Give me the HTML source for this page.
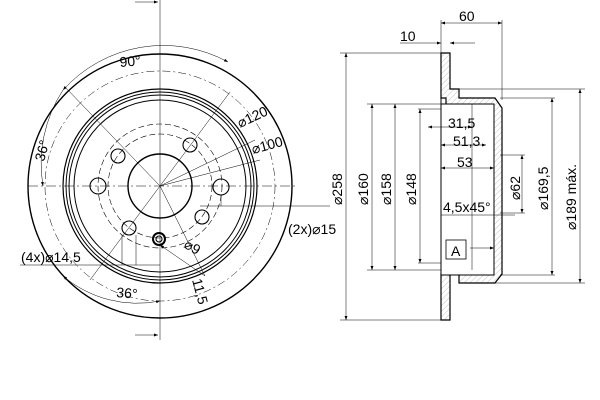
<!DOCTYPE html>
<html><head><style>body{margin:0;background:#fff}svg{display:block}text{font-family:"Liberation Sans",sans-serif;font-size:14px;fill:#000}</style></head><body>
<svg width="600" height="400" viewBox="0 0 600 400" xmlns="http://www.w3.org/2000/svg">
<defs>
<pattern id="h" width="4" height="4" patternUnits="userSpaceOnUse" patternTransform="rotate(45)"><line x1="0" y1="0" x2="0" y2="4" stroke="#888" stroke-width="0.5"/></pattern>
<marker id="a" markerWidth="8" markerHeight="6" refX="8" refY="3" orient="auto-start-reverse"><path d="M0,0L8,3L0,6z" fill="#000"/></marker>
</defs>
<g fill="none" stroke="#000">
<circle cx="160" cy="186" r="132" stroke-width="1.4"/>
<circle cx="160" cy="186" r="97" stroke-width="1.2"/>
<circle cx="160" cy="186" r="94"/>
<circle cx="160" cy="186" r="91"/>
<circle cx="160" cy="186" r="86"/>
<circle cx="160" cy="186" r="32" stroke-width="1.4"/>
<circle cx="160" cy="186" r="62" stroke-width="0.6" stroke-dasharray="6,3"/>
<circle cx="160" cy="186" r="52" stroke-width="0.6" stroke-dasharray="6,3"/>
<circle cx="160" cy="186" r="115" stroke-width="0.5" stroke-dasharray="8,3,2,3"/>
<g stroke-width="1.1">
<circle cx="221" cy="187" r="8"/><circle cx="98" cy="186" r="8"/>
<circle cx="190" cy="145" r="7"/><circle cx="118" cy="156" r="7"/>
<circle cx="202" cy="217" r="7"/><circle cx="129" cy="228" r="7"/>
<circle cx="159" cy="239" r="6" stroke-width="2"/><circle cx="159" cy="239" r="3"/>
</g>
<g stroke-width="0.5">
<line x1="28" y1="186" x2="295" y2="186" stroke-dasharray="10,3,2,3"/>
<line x1="160" y1="0" x2="160" y2="340"/>
<line x1="160" y1="186" x2="230" y2="92"/>
<line x1="160" y1="186" x2="65" y2="87"/>
<line x1="160" y1="186" x2="255" y2="140"/>
<line x1="160" y1="186" x2="260" y2="160"/>
<line x1="160" y1="186" x2="90" y2="280"/>
<line x1="160" y1="186" x2="205" y2="276"/>
<line x1="20" y1="265" x2="160" y2="265"/>
<line x1="200" y1="206" x2="330" y2="206"/>
<line x1="221" y1="195" x2="221" y2="206"/>
<line x1="122" y1="235" x2="122" y2="265"/><line x1="136" y1="235" x2="136" y2="265"/>
<path d="M63,276 A115,115 0 0 0 160 301" marker-start="url(#a)" marker-end="url(#a)"/>
<path d="M63,90 A135,135 0 0 1 228 62" marker-start="url(#a)" marker-end="url(#a)"/>
<path d="M63,90 A135,135 0 0 0 43 186" marker-end="url(#a)"/>
<line x1="135" y1="2" x2="158" y2="2" marker-end="url(#a)"/>
<line x1="135" y1="335" x2="158" y2="335" marker-end="url(#a)"/>
<line x1="205" y1="276" x2="160" y2="245" marker-end="url(#a)"/>
</g>
</g>
<text x="120" y="67" transform="rotate(-5 120 67)">90°</text>
<text x="44" y="162" transform="rotate(-75 44 162)">36°</text>
<text x="116" y="297" transform="rotate(5 116 297)">36°</text>
<text x="240" y="128" transform="rotate(-25 240 128)">⌀120</text>
<text x="253" y="154" transform="rotate(-15 253 154)">⌀100</text>
<text x="183" y="247" transform="rotate(30 183 247)">⌀9</text>
<text x="192" y="280" transform="rotate(75 192 280)">11,5</text>
<text x="21" y="262">(4x)⌀14,5</text>
<text x="288" y="234">(2x)⌀15</text>
<g stroke="#000">
<path d="M441,53H450V89H459V98H495L502,108V274L495,283H459V274H450V320H441V274H446V98H441Z" fill="url(#h)" stroke-width="1.2"/>
<path d="M441,104H494V275H441" fill="#fff" stroke-width="1"/>
<line x1="441" y1="98" x2="441" y2="283"/>
<g stroke-width="0.5" fill="none">
<line x1="441" y1="20" x2="441" y2="53"/><line x1="502" y1="20" x2="502" y2="100"/>
<line x1="441" y1="23" x2="502" y2="23" marker-start="url(#a)" marker-end="url(#a)"/>
<line x1="400" y1="43" x2="441" y2="43" marker-end="url(#a)"/><line x1="475" y1="43" x2="450" y2="43" marker-end="url(#a)"/>
<line x1="340" y1="53" x2="441" y2="53"/><line x1="340" y1="320" x2="441" y2="320"/>
<line x1="346" y1="53" x2="346" y2="320" marker-start="url(#a)" marker-end="url(#a)"/>
<line x1="367" y1="104" x2="441" y2="104"/><line x1="367" y1="270" x2="441" y2="270"/>
<line x1="372" y1="104" x2="372" y2="270" marker-start="url(#a)" marker-end="url(#a)"/>
<line x1="395" y1="104" x2="395" y2="270" marker-start="url(#a)" marker-end="url(#a)"/>
<line x1="418" y1="109" x2="441" y2="109"/><line x1="418" y1="263" x2="441" y2="263"/>
<line x1="420" y1="109" x2="420" y2="263" marker-start="url(#a)" marker-end="url(#a)"/>
<line x1="472" y1="104" x2="472" y2="270"/>
<line x1="428" y1="127" x2="472" y2="127" marker-start="url(#a)" marker-end="url(#a)"/>
<line x1="441" y1="145" x2="486" y2="145" marker-start="url(#a)" marker-end="url(#a)"/>
<line x1="441" y1="168" x2="494" y2="168" marker-start="url(#a)" marker-end="url(#a)"/>
<line x1="441" y1="215" x2="515" y2="215"/>
<line x1="500" y1="155" x2="525" y2="155"/><line x1="500" y1="213" x2="525" y2="213"/>
<line x1="522" y1="155" x2="522" y2="213" marker-start="url(#a)" marker-end="url(#a)"/>
<line x1="500" y1="98" x2="555" y2="98"/><line x1="500" y1="275" x2="555" y2="275"/>
<line x1="552" y1="98" x2="552" y2="275" marker-start="url(#a)" marker-end="url(#a)"/>
<line x1="459" y1="89" x2="585" y2="89"/><line x1="459" y1="283" x2="585" y2="283"/>
<line x1="580" y1="89" x2="580" y2="283" marker-start="url(#a)" marker-end="url(#a)"/>
<line x1="470" y1="248" x2="494" y2="248" marker-end="url(#a)"/>
</g>
<rect x="446" y="240" width="20" height="19" fill="#fff" stroke-width="0.8"/>
</g>
<text x="459" y="21">60</text><text x="400" y="41">10</text>
<text x="448" y="128">31,5</text><text x="453" y="146">51,3</text><text x="457" y="167">53</text>
<text x="443" y="212">4,5x45°</text><text x="451" y="256">A</text>
<text x="342" y="205" transform="rotate(-90 342 205)">⌀258</text>
<text x="368" y="205" transform="rotate(-90 368 205)">⌀160</text>
<text x="391" y="205" transform="rotate(-90 391 205)">⌀158</text>
<text x="416" y="205" transform="rotate(-90 416 205)">⌀148</text>
<text x="520" y="200" transform="rotate(-90 520 200)">⌀62</text>
<text x="548" y="210" transform="rotate(-90 548 210)">⌀169,5</text>
<text x="576" y="230" transform="rotate(-90 576 230)">⌀189 máx.</text>
</svg>
</body></html>
